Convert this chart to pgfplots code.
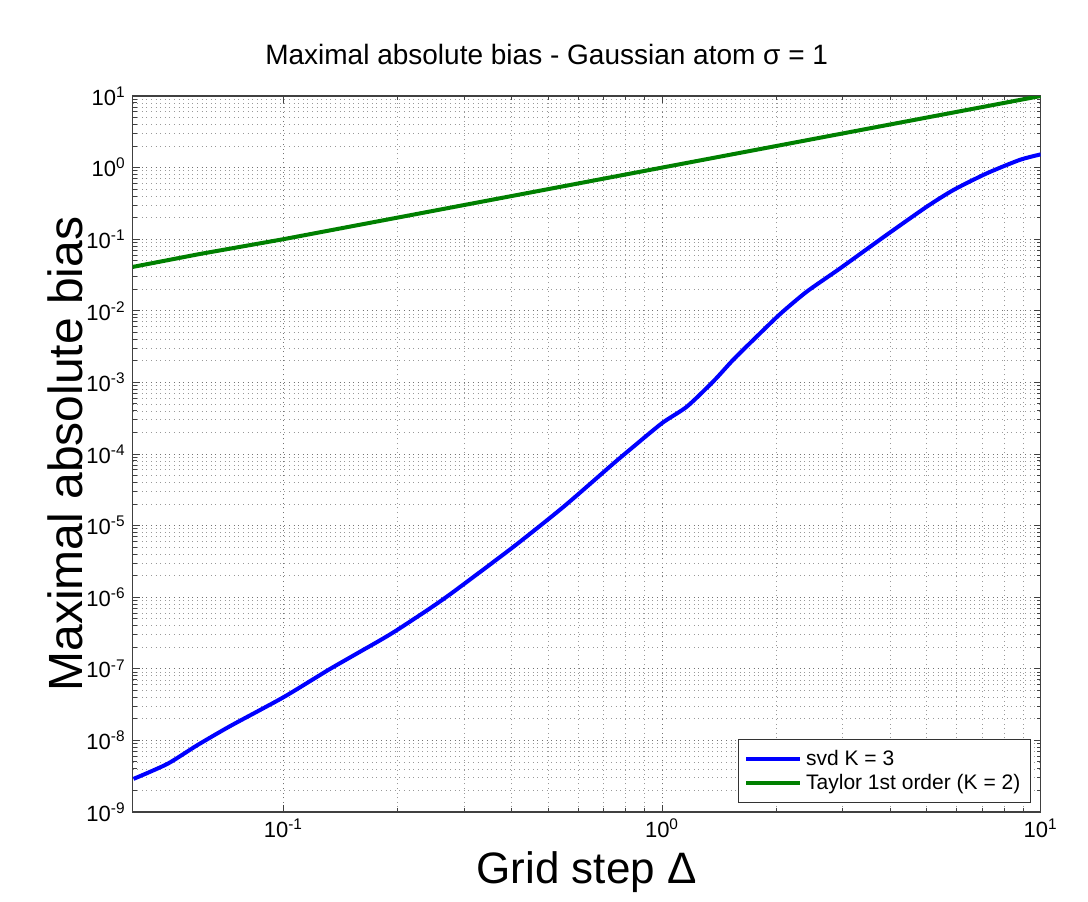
\documentclass[border=0pt]{standalone}
\usepackage{fontspec}
\setmainfont{Liberation Sans}
\usepackage{pgfplots}
\pgfplotsset{compat=1.18}
\usetikzlibrary{calc}
\definecolor{mgreen}{RGB}{0,128,0}
\definecolor{mblue}{RGB}{0,0,255}

\begin{document}
\begin{tikzpicture}
\begin{loglogaxis}[
    scale only axis,
    width=454pt, height=358pt,
    xmin=0.04, xmax=10, ymin=1e-9, ymax=10,
    xtick={0.1,1,10},
    xticklabels={10\textsuperscript{-1},10\textsuperscript{0},10\textsuperscript{1}},
    ytick={1e-9,1e-8,1e-7,1e-6,1e-5,1e-4,1e-3,1e-2,1e-1,1,10},
    yticklabels={10\textsuperscript{-9},10\textsuperscript{-8},10\textsuperscript{-7},10\textsuperscript{-6},10\textsuperscript{-5},10\textsuperscript{-4},10\textsuperscript{-3},10\textsuperscript{-2},10\textsuperscript{-1},10\textsuperscript{0},10\textsuperscript{1}},
    ticklabel style={font=\fontsize{11}{13}\selectfont},
    tick align=inside,
    major tick length=3.5pt, minor tick length=2pt,
    every tick/.style={black!75, line width=0.5pt},
    axis line style={black!75, line width=0.6pt},
    grid=both,
    major grid style={black!55, line width=0.4pt, dash pattern=on 0.5pt off 1.8pt},
    minor grid style={black!40, line width=0.4pt, dash pattern=on 0.5pt off 1.8pt},
    title={Maximal absolute bias - Gaussian atom σ = 1},
    title style={font=\fontsize{14}{16}\selectfont, xshift=-20pt, yshift=6pt},
    xlabel={Grid step Δ},
    ylabel={Maximal absolute bias},
    xlabel style={font=\fontsize{22}{26}\selectfont},
    ylabel style={font=\fontsize{24}{28}\selectfont, yshift=-5pt},
    legend style={at={(0.989,0.013)}, anchor=south east,
        font=\fontsize{10.5}{13}\selectfont, draw=black!80,
        row sep=-1pt, inner sep=3pt},
    legend cell align=left,
    legend image code/.code={\draw[#1] (0pt,0pt) -- (27pt,0pt);},
]
\addplot[mblue, line width=2pt, smooth, tension=0.4] coordinates {
(0.0402,2.9e-9) (0.0494,4.7e-9) (0.0593,8.6e-9) (0.0726,1.6e-8)
(0.1,4.0e-8) (0.133,1.0e-7) (0.18,2.5e-7) (0.2,3.5e-7) (0.244,7.0e-7)
(0.282,1.2e-6) (0.406,5.1e-6) (0.55,1.84e-5) (0.745,7.4e-5) (0.824,1.16e-4)
(1.0,2.7e-4) (1.164,4.6e-4) (1.37,1.05e-3) (1.54,2.06e-3) (1.74,3.9e-3)
(2.05,9.0e-3) (2.41,0.0185) (2.95,0.039)
(3.92,0.115) (5.0,0.284) (5.88,0.486) (7.2,0.83) (8.8,1.28) (10,1.53)
};
\addlegendentry{svd K = 3}
\addplot[mgreen, line width=2pt] coordinates {
(0.04,0.041) (0.06,0.062) (0.1,0.1) (0.2,0.2) (0.5,0.5)
(1,1) (2,2) (5,5) (10,10)
};
\addlegendentry{Taylor 1st order (K = 2)}
\end{loglogaxis}
\path[use as bounding box] ($(current axis.south west)+(-66.35pt,-44.5pt)$) rectangle ($(current axis.north east)+(23.65pt,48pt)$);
\end{tikzpicture}
\end{document}
